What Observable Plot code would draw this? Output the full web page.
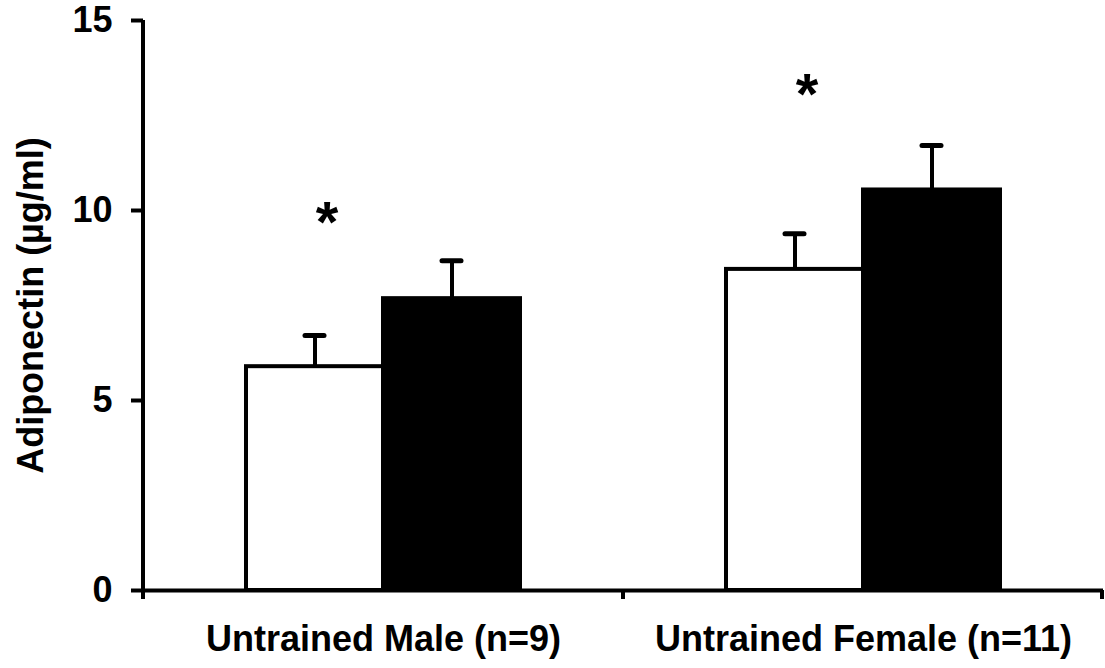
<!DOCTYPE html>
<html>
<head>
<meta charset="utf-8">
<script src="https://cdn.jsdelivr.net/npm/d3@7"></script>
<script src="https://cdn.jsdelivr.net/npm/@observablehq/plot@0.6"></script>
<style>
  html, body { margin: 0; padding: 0; background: #fff; }
  #chart { width: 1105px; height: 668px; }
  svg { font-family: "Liberation Sans", Arial, sans-serif; }
</style>
</head>
<body>
<div id="chart"></div>
<script>
// Categories and series
const groups = ["Untrained Male (n=9)", "Untrained Female (n=11)"];
const series = ["Open", "Filled"];
// Mean values (µg/ml) per group: [Open, Filled]
const maleMeans = [5.89, 7.68];
const femaleMeans = [8.45, 10.54];
// Error (upper) per group
const maleErr = [0.82, 1.00];
const femaleErr = [0.94, 1.17];
// Significance markers
const starGroups = ["Untrained Male (n=9)", "Untrained Female (n=11)"];
const starValues = [9.67, 13.02];
const yTicks = [0, 5, 10, 15];

const means = [maleMeans, femaleMeans];
const errs = [maleErr, femaleErr];
const data = [];
groups.forEach((g, i) => series.forEach((s, j) => data.push({group: g, series: s, mean: means[i][j], err: errs[i][j]})));
const stars = starGroups.map((g, i) => ({group: g, series: "Open", y: starValues[i]}));

const plot = Plot.plot({
  width: 1105,
  height: 668,
  marginLeft: 143,
  marginRight: 2,
  marginTop: 20,
  marginBottom: 78,
  style: {fontFamily: "'Liberation Sans', Arial, sans-serif", background: "white"},
  fx: {domain: groups, padding: 0},
  x: {domain: series, paddingInner: 0, paddingOuter: 0.745, axis: null},
  y: {domain: [0, 15]},
  color: {domain: series, range: ["white", "black"]},
  marks: [
    Plot.barY(data, {fx: "group", x: "series", y: "mean", fill: "series", stroke: "black", strokeWidth: 4}),
    Plot.ruleX(data, {fx: "group", x: "series", y1: "mean", y2: d => d.mean + d.err, stroke: "black", strokeWidth: 4}),
    Plot.tickY(data, {fx: "group", x: "series", y: d => d.mean + d.err, stroke: "black", strokeWidth: 5, strokeLinecap: "round", insetLeft: 59, insetRight: 59}),
    Plot.ruleY([0], {stroke: "black", strokeWidth: 4}),
    Plot.text(stars, {fx: "group", x: "series", y: "y", text: () => "*", fontSize: 58, fontWeight: "bold", dx: 12, fill: "black"}),
    Plot.axisY({ticks: yTicks, tickSize: 12, tickPadding: 19, fontSize: 36, fontWeight: "bold", strokeWidth: 4, label: "Adiponectin (µg/ml)", labelAnchor: "center", labelOffset: 126, labelArrow: "none", color: "black"}),
    Plot.axisFx({anchor: "bottom", tickSize: 0, tickPadding: 35, fontSize: 36, fontWeight: "bold", label: null, color: "black"})
  ]
});

// Axis line on the left and boundary ticks on the x axis, from Plot's own scales
const svg = d3.select(plot);
const fxs = plot.scale("fx");
const ys = plot.scale("y");
const left = fxs.range[0], right = fxs.range[1];
const y0 = ys.apply(0), yTop = ys.apply(15);
const g = svg.append("g").attr("stroke", "black").attr("stroke-width", 4);
g.append("line").attr("x1", left).attr("x2", left).attr("y1", yTop).attr("y2", y0 + 9);
const bounds = groups.map(d => fxs.apply(d)).concat([fxs.apply(groups[groups.length - 1]) + fxs.bandwidth]);
bounds.slice(1).forEach(b => {
  const bx = Math.min(b, right - 1);
  g.append("line").attr("x1", bx).attr("x2", bx).attr("y1", y0).attr("y2", y0 + 9);
});
document.getElementById("chart").appendChild(plot);
</script>
</body>
</html>
